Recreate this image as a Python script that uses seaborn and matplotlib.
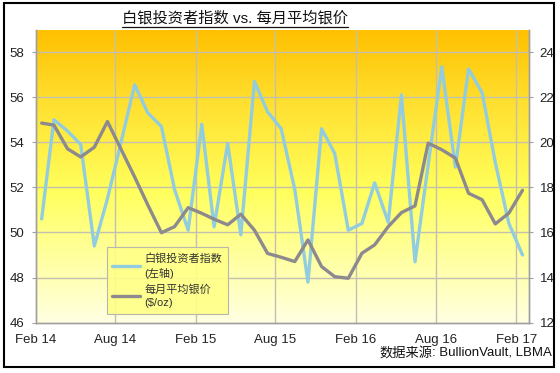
import numpy as np
import pandas as pd
import matplotlib
matplotlib.use("Agg")
import matplotlib.pyplot as plt
import matplotlib.dates as mdates
from matplotlib.colors import LinearSegmentedColormap
from matplotlib.patches import Rectangle
from matplotlib.lines import Line2D
import seaborn as sns

# ---------------- data ----------------
months = pd.date_range("2014-02-01", periods=37, freq="MS") + pd.Timedelta(days=14)
investor_index = [50.6, 55.0, 54.5, 53.9, 49.4, 51.5, 54.0, 56.55, 55.3, 54.7,
                  51.9, 50.1, 54.8, 50.25, 53.95, 49.9, 56.7, 55.35, 54.6, 51.9,
                  47.8, 54.6, 53.5, 50.1, 50.4, 52.2, 50.45, 56.1, 48.7, 53.0,
                  57.35, 52.9, 57.25, 56.2, 53.1, 50.4, 49.0]
silver_price = [20.85, 20.76, 19.71, 19.35, 19.78, 20.92, 19.69, 18.46, 17.22, 15.99,
                16.26, 17.10, 16.85, 16.59, 16.34, 16.81, 16.10, 15.07, 14.90, 14.71,
                15.67, 14.49, 14.04, 13.97, 15.08, 15.45, 16.26, 16.88, 17.18, 19.96,
                19.67, 19.30, 17.74, 17.45, 16.38, 16.86, 17.87]
tick_dates = pd.to_datetime(["2014-02-01", "2014-08-01", "2015-02-01", "2015-08-01",
                             "2016-02-01", "2016-08-01", "2017-02-01"])
tick_labels = ["Feb 14", "Aug 14", "Feb 15", "Aug 15", "Feb 16", "Aug 16", "Feb 17"]
left_ticks = [46, 48, 50, 52, 54, 56, 58]
right_ticks = [12, 14, 16, 18, 20, 22, 24]

title = "白银投资者指数 vs. 每月平均银价"
label_index = "白银投资者指数\n(左轴)"
label_price = "每月平均银价\n($/oz)"
source_cn = "数据来源"
source_en = ": BullionVault, LBMA"

df = pd.DataFrame({"month": months, "index": investor_index, "price": silver_price})

# ---------------- style ----------------
sns.set_theme(style="white")
plt.rcParams["font.family"] = ["Liberation Sans", "Noto Sans CJK SC", "DejaVu Sans"]

BLUE = "#92CCDF"
GRAY = "#8C8A8E"
GRID = "#C4C0B0"
SPINE = "#A0A0A0"

fig = plt.figure(figsize=(5.6, 3.73), dpi=100)
fig.patch.set_facecolor("white")
ax = fig.add_axes([0.0634, 0.1349, 0.8806, 0.786])
ax2 = ax.twinx()

x0 = pd.Timestamp("2014-02-01")
x1 = pd.Timestamp("2017-03-01")

# gradient background
cmap = LinearSegmentedColormap.from_list(
    "bg", [(0.0, "#FFC000"), (0.25, "#FFE030"), (0.55, "#FFFF5C"), (1.0, "#FFFFE2")])
grad = np.linspace(0, 1, 256).reshape(-1, 1)
ax.imshow(grad, cmap=cmap, aspect="auto", origin="upper",
          extent=[mdates.date2num(x0), mdates.date2num(x1), 46, 59], zorder=0)

# grid
for yv in left_ticks[1:]:
    ax.axhline(yv, color=GRID, lw=1.0, zorder=1)
for xv in tick_dates[1:]:
    ax.axvline(xv, color=GRID, lw=1.0, zorder=1)

sns.lineplot(data=df, x="month", y="index", ax=ax, color=BLUE, lw=2.4,
             zorder=3, legend=False)
sns.lineplot(data=df, x="month", y="price", ax=ax2, color=GRAY, lw=2.4,
             zorder=3, legend=False)
ax2.patch.set_visible(False)

ax.set_xlim(x0, x1)
ax.set_ylim(46, 59)
ax2.set_ylim(12, 25)

ax.set_xlabel("")
ax.set_ylabel("")
ax2.set_ylabel("")

ax.set_xticks(tick_dates)
ax.set_xticklabels(tick_labels)
ax.set_yticks(left_ticks)
ax2.set_yticks(right_ticks)
ax.set_yticklabels([str(v) for v in left_ticks])
ax2.set_yticklabels([str(v) for v in right_ticks])

for a in (ax, ax2):
    a.tick_params(axis="both", labelsize=9.5, colors="#222222", length=3,
                  width=0.8, direction="out", pad=4)
    a.spines["top"].set_visible(False)
    for s in ("left", "right", "bottom"):
        a.spines[s].set_color(SPINE)
        a.spines[s].set_linewidth(1.0)
ax.tick_params(axis="both", color=SPINE)
ax2.tick_params(axis="y", color=SPINE)
ax.tick_params(axis="x", pad=5)
ax.tick_params(axis="y", pad=5)
ax2.tick_params(axis="y", pad=5)

# legend
handles = [Line2D([], [], color=BLUE, lw=2.4), Line2D([], [], color=GRAY, lw=2.4)]
leg = ax2.legend(handles, [label_index, label_price], loc="lower left",
                 bbox_to_anchor=(0.144, 0.03), borderaxespad=0, fontsize=8,
                 frameon=True, fancybox=False, handlelength=2.5,
                 labelspacing=0.5, handletextpad=0.4, borderpad=0.5)
leg.get_frame().set_facecolor("#FFFF88")
leg.get_frame().set_edgecolor("#B0B0B0")
leg.get_frame().set_linewidth(0.8)
leg.get_frame().set_alpha(0.9)
for t in leg.get_texts():
    t.set_color("#333333")
    t.set_linespacing(1.45)

# title with underline
ttl = fig.text(0.42, 0.952, title, ha="center", va="center", fontsize=11,
               color="#111111")
fig.canvas.draw()
bb = ttl.get_window_extent().transformed(fig.transFigure.inverted())
fig.add_artist(Line2D([bb.x0, bb.x1], [bb.y0 - 0.004, bb.y0 - 0.004],
                      transform=fig.transFigure, color="#111111", lw=0.9))

# source
src = fig.text(0.986, 0.054, source_en, ha="right", va="center", fontsize=9.5,
               color="#111111")
fig.canvas.draw()
sb = src.get_window_extent().transformed(fig.transFigure.inverted())
fig.text(sb.x0, 0.054, source_cn, ha="right", va="center", fontsize=9.5,
         color="#111111", style="italic")

# outer border
fig.add_artist(Rectangle((0.0077, 0.017), 0.981, 0.974, transform=fig.transFigure,
                         fill=False, edgecolor="black", lw=1.5))

fig.savefig("out.png", dpi=100)
